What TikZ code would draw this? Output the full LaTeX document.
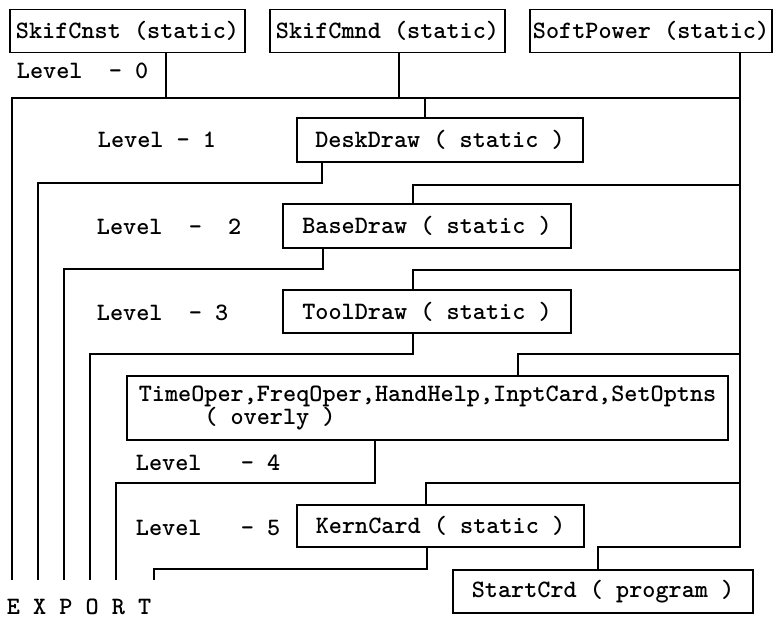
\documentclass[tikz,border=0pt]{standalone}
\usetikzlibrary{calc}

\begin{document}
\begin{tikzpicture}[
    x=1pt, y=-1pt, % one unit = one pixel of the chart, y grows downwards
    line width=1.8pt,
    every node/.style={font=\fontsize{25}{12}\selectfont\ttfamily\bfseries, inner sep=0pt},
    module/.style={draw, minimum height=43pt},
    level text/.style={anchor=base west}
]
    \useasboundingbox (0,0) rectangle (779,620);

    % --- 1. STATIC MODULES ON TOP ---
    \node[module, minimum width=235pt] (cnst)  at (127.5,31) {SkifCnst (static)};
    \node[module, minimum width=235pt] (cmnd)  at (387.5,31) {SkifCmnd (static)};
    \node[module, minimum width=242pt] (power) at (651,31)   {SoftPower (static)};

    % --- 2. ONE BOX PER LEVEL ---
    \node[module, minimum width=286pt, minimum height=44pt] (desk) at (440,140) {DeskDraw ( static )};
    \node[module, minimum width=288pt, minimum height=44pt] (base) at (427,226) {BaseDraw ( static )};
    \node[module, minimum width=288pt] (tool) at (427,311.5) {ToolDraw ( static )};
    \node[module, minimum width=601pt, minimum height=64pt, align=left] (ovly) at (427.5,408)
        {TimeOper,FreqOper,HandHelp,InptCard,SetOptns\\[-1pt]
         \hphantom{TimeO}( overly )\rule[-3pt]{0pt}{3pt}};
    \node[module, minimum width=287pt, minimum height=42pt] (kern) at (440.5,526) {KernCard ( static )};
    \node[module, minimum width=300pt] (start) at (603,591.5) {StartCrd ( program )};

    % Level captions
    \node[level text] (lv0) at (16,79)  {Level~~-~0};
    \node[level text] (lv1) at (97,148) {Level - 1};
    \node[level text] (lv2) at (96,235) {Level~~-~~2};
    \node[level text] (lv3) at (96,320) {Level~~-~3};
    \node[level text] (lv4) at (135,470) {Level~~~-~4};
    \node[level text] (lv5) at (135,535) {Level~~~-~5};
    \node[level text] (export) at (6,614) {E~X~P~O~R~T};

    % --- 3. WIRES ---
    % Level 0 bus
    \coordinate (bus0W) at (12,98);
    \coordinate (bus0E) at (740,98);
    \coordinate (exp0) at (12,580);
    \coordinate (tapA) at (166,98);
    \coordinate (tapB) at (399,98);
    \coordinate (pwr) at (740,547);
    \draw (exp0) -- (bus0W) -- (bus0E);
    \draw (tapA |- cnst.south) -- (tapA);
    \draw (tapB |- cmnd.south) -- (tapB);
    \draw (pwr |- power.south) -- (pwr) -| ([xshift=-5pt]start.north);

    % Feeds from the SoftPower line into each level
    \coordinate (feed1) at (425,98);
    \coordinate (feed2) at (413,185);
    \coordinate (feed3) at (413,270);
    \coordinate (feed4) at (518,354);
    \coordinate (feed5) at (426,483);
    \draw (feed1) -- (feed1 |- desk.north);
    \draw (feed2 -| bus0E) -- (feed2) -- (feed2 |- base.north);
    \draw (feed3 -| bus0E) -- (feed3) -- (feed3 |- tool.north);
    \draw (feed4 -| bus0E) -- (feed4) -- (feed4 |- ovly.north);
    \draw (feed5 -| bus0E) -- (feed5) -- (feed5 |- kern.north);

    % Outputs of each level down to EXPORT
    \coordinate (out1) at (322,183);
    \coordinate (out2) at (323,269);
    \coordinate (out3) at (413,354);
    \coordinate (out4) at (375,483);
    \coordinate (out5) at (427,569);
    \coordinate (exp1) at (38,580);
    \coordinate (exp2) at (64,580);
    \coordinate (exp3) at (90,580);
    \coordinate (exp4) at (116,580);
    \coordinate (exp5) at (154,580);
    \draw (out1 |- desk.south) -- (out1) -| (exp1);
    \draw (out2 |- base.south) -- (out2) -| (exp2);
    \draw (out3 |- tool.south) -- (out3) -| (exp3);
    \draw (out4 |- ovly.south) -- (out4) -| (exp4);
    \draw (out5 |- kern.south) -- (out5) -| (exp5);

\end{tikzpicture}
\end{document}
